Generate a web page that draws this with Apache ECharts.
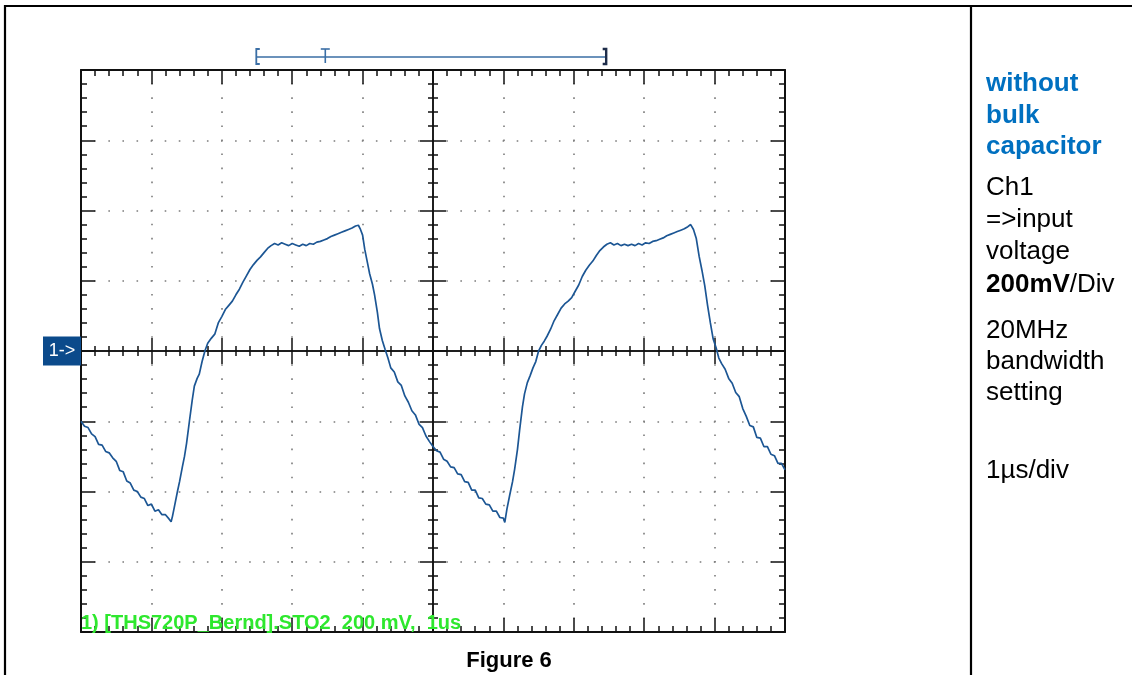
<!DOCTYPE html>
<html>
<head>
<meta charset="utf-8">
<title>Figure 6</title>
<script src="https://cdn.jsdelivr.net/npm/echarts@6/dist/echarts.min.js"></script>
<style>
  html, body { margin: 0; padding: 0; background: #ffffff; }
  #chart { width: 1132px; height: 675px; }
</style>
</head>
<body>
<div id="chart"></div>
<script>
// Channel 1 input voltage: time in microseconds, voltage in millivolts
const timeUs = [
  0.00, 0.05, 0.10, 0.15, 0.20, 0.25, 0.30, 0.35, 0.40, 0.45,
  0.50, 0.55, 0.60, 0.65, 0.70, 0.75, 0.80, 0.85, 0.90, 0.95,
  1.00, 1.05, 1.10, 1.15, 1.20, 1.25, 1.28, 1.30, 1.33, 1.37,
  1.40, 1.44, 1.47, 1.50, 1.54, 1.58, 1.61, 1.65, 1.68, 1.72,
  1.76, 1.80, 1.85, 1.90, 1.95, 2.00, 2.05, 2.10, 2.15, 2.20,
  2.25, 2.30, 2.35, 2.40, 2.45, 2.50, 2.55, 2.60, 2.65, 2.70,
  2.75, 2.80, 2.85, 2.90, 2.95, 3.00, 3.05, 3.10, 3.15, 3.20,
  3.25, 3.30, 3.35, 3.40, 3.45, 3.50, 3.55, 3.60, 3.65, 3.70,
  3.75, 3.80, 3.85, 3.90, 3.94, 3.97, 4.00, 4.03, 4.07, 4.10,
  4.14, 4.17, 4.21, 4.24, 4.28, 4.32, 4.36, 4.40, 4.45, 4.50,
  4.55, 4.60, 4.65, 4.70, 4.75, 4.80, 4.85, 4.90, 4.95,
  5.00, 5.05, 5.10, 5.15, 5.20, 5.25, 5.30, 5.35, 5.40, 5.45,
  5.50, 5.55, 5.60, 5.65, 5.70, 5.75, 5.80, 5.85, 5.90, 5.95,
  6.00, 6.02, 6.05, 6.09, 6.13, 6.16, 6.20, 6.23, 6.27, 6.30,
  6.34, 6.38, 6.42, 6.46, 6.50, 6.54, 6.58, 6.62, 6.67, 6.72,
  6.77, 6.82, 6.87, 6.92, 6.97, 7.02, 7.07, 7.12, 7.17, 7.22,
  7.27, 7.32, 7.37, 7.42, 7.47, 7.52, 7.57, 7.62, 7.67, 7.72,
  7.77, 7.82, 7.87, 7.92, 7.97, 8.02, 8.07, 8.12, 8.17, 8.22,
  8.27, 8.32, 8.37, 8.42, 8.47, 8.52, 8.57, 8.62, 8.66, 8.70,
  8.74, 8.78, 8.82, 8.86, 8.90, 8.94, 8.98, 9.02, 9.06, 9.10,
  9.15, 9.20, 9.25, 9.30, 9.35, 9.40, 9.45, 9.50, 9.55, 9.60,
  9.65, 9.70, 9.75, 9.80, 9.85, 9.90, 9.95, 10.00
];
const voltageMv = [
  -200, -214, -218, -236, -244, -266, -268, -286, -290, -304,
  -314, -340, -344, -370, -376, -396, -400, -416, -420, -440,
  -436, -456, -452, -466, -466, -478, -486, -470, -440, -400,
  -372, -330, -300, -262, -200, -140, -100, -78, -66, -30,
  0, 22, 36, 48, 80, 98, 118, 130, 142, 160,
  176, 196, 214, 232, 246, 258, 268, 280, 292, 300,
  306, 302, 308, 304, 300, 306, 302, 298, 304, 300,
  306, 304, 310, 312, 316, 320, 326, 330, 334, 338,
  342, 346, 350, 356, 358, 346, 330, 290, 250, 220,
  190, 160, 110, 64, 30, 4, -20, -48, -60, -88,
  -98, -128, -146, -170, -182, -208, -218, -242, -258,
  -272, -284, -288, -308, -314, -330, -332, -350, -352, -372,
  -374, -396, -396, -418, -420, -436, -438, -456, -456, -474,
  -476, -488, -450, -410, -372, -336, -280, -226, -160, -122,
  -90, -70, -48, -30, 0, 16, 28, 42, 62, 86,
  104, 122, 134, 142, 152, 170, 188, 212, 230, 244,
  256, 272, 286, 296, 304, 308, 302, 306, 300, 304,
  300, 304, 300, 306, 302, 308, 306, 312, 314, 318,
  322, 328, 332, 336, 340, 344, 348, 354, 360, 346,
  320, 270, 230, 186, 130, 80, 34, 10, -20, -36,
  -52, -78, -92, -118, -130, -164, -186, -212, -216, -246,
  -248, -272, -272, -294, -298, -320, -320, -338
];

// Screen divisions: 1 µs/div horizontally, 200 mV/div vertically
const timeDivisions = [0, 1, 2, 3, 4, 5, 6, 7, 8, 9, 10];
const voltageDivisions = [-800, -600, -400, -200, 0, 200, 400, 600, 800];

// Record window marker above the screen: start, trigger point, end (µs)
const recordStartUs = 2.49;
const triggerUs = 3.47;
const recordEndUs = 7.46;

const captionText = '1) [THS720P_Bernd].STO2  200 mV,  1us';
const figureTitle = 'Figure 6';
const headingLines = ['without', 'bulk', 'capacitor'];
const noteLines = ['Ch1', '=>input', 'voltage', '{b|200mV}/Div', '20MHz', 'bandwidth', 'setting', '1µs/div'];

const FONT = '"Liberation Sans", Arial, Helvetica, sans-serif';
const INK = '#111111';
const TRACE = '#1c5694';

const chart = echarts.init(document.getElementById('chart'), null, { renderer: 'canvas' });

function scopeAxis(dim, position, o) {
  const isX = dim === 'x';
  const ticks = isX ? timeDivisions : voltageDivisions;
  return {
    type: 'value',
    position: position,
    offset: o.offset || 0,
    min: ticks[0],
    max: ticks[ticks.length - 1],
    interval: ticks[1] - ticks[0],
    axisLine: { show: true, onZero: false, lineStyle: { color: INK, width: o.lineWidth } },
    axisTick: { show: true, inside: o.inside, length: o.major, lineStyle: { color: INK, width: 1.5 } },
    minorTick: { show: true, splitNumber: 5, length: o.minor, lineStyle: { color: INK, width: 1.5 } },
    axisLabel: { show: false },
    splitLine: o.dots ? {
      show: true,
      lineStyle: { color: '#7c7c7c', width: 1.6, type: [1.6, isX ? 12.45 : 12.48], dashOffset: 0.8 }
    } : { show: false },
    minorSplitLine: { show: false }
  };
}

const gridBox = { left: 81, top: 70, width: 704, height: 562 };

const option = {
  animation: false,
  backgroundColor: '#ffffff',
  grid: { left: gridBox.left, top: gridBox.top, width: gridBox.width, height: gridBox.height, outerBoundsMode: 'none' },
  xAxis: [
    scopeAxis('x', 'bottom', { inside: true, major: 14, minor: 6, lineWidth: 2, dots: true }),
    scopeAxis('x', 'top', { inside: true, major: 14, minor: 6, lineWidth: 2 }),
    scopeAxis('x', 'bottom', { inside: true, major: 13, minor: 5, lineWidth: 1.5, offset: -gridBox.height / 2 }),
    scopeAxis('x', 'bottom', { inside: false, major: 13, minor: 5, lineWidth: 1.5, offset: -gridBox.height / 2 })
  ],
  yAxis: [
    scopeAxis('y', 'left', { inside: true, major: 14, minor: 6, lineWidth: 2, dots: true }),
    scopeAxis('y', 'right', { inside: true, major: 14, minor: 6, lineWidth: 2 }),
    scopeAxis('y', 'left', { inside: true, major: 13, minor: 5, lineWidth: 1.5, offset: -gridBox.width / 2 }),
    scopeAxis('y', 'left', { inside: false, major: 13, minor: 5, lineWidth: 1.5, offset: -gridBox.width / 2 })
  ],
  series: [{
    name: 'Ch1',
    type: 'line',
    xAxisIndex: 0,
    yAxisIndex: 0,
    data: timeUs.map((t, i) => [t, voltageMv[i]]),
    symbol: 'none',
    showSymbol: false,
    clip: true,
    z: 5,
    lineStyle: { color: TRACE, width: 1.7 }
  }]
};

chart.setOption(option);

// Decorations placed from the axis scales
const zeroY = chart.convertToPixel({ yAxisIndex: 0 }, 0);
const topY = chart.convertToPixel({ yAxisIndex: 0 }, voltageDivisions[voltageDivisions.length - 1]);
const bottomY = chart.convertToPixel({ yAxisIndex: 0 }, voltageDivisions[0]);
const leftX = chart.convertToPixel({ xAxisIndex: 0 }, timeDivisions[0]);
const xStart = chart.convertToPixel({ xAxisIndex: 0 }, recordStartUs);
const xTrig = chart.convertToPixel({ xAxisIndex: 0 }, triggerUs);
const xEnd = chart.convertToPixel({ xAxisIndex: 0 }, recordEndUs);
const barY = topY - 13;

const graphics = [];

// Document table frame
graphics.push(
  { type: 'line', shape: { x1: 4, y1: 6, x2: 1132, y2: 6 }, style: { stroke: '#000', lineWidth: 2.2 }, z: 10 },
  { type: 'line', shape: { x1: 5, y1: 5, x2: 5, y2: 675 }, style: { stroke: '#000', lineWidth: 2.2 }, z: 10 },
  { type: 'line', shape: { x1: 971, y1: 5, x2: 971, y2: 675 }, style: { stroke: '#000', lineWidth: 2.2 }, z: 10 }
);

// Record window bar with trigger mark
graphics.push(
  { type: 'line', shape: { x1: xStart, y1: barY, x2: xEnd, y2: barY }, style: { stroke: '#3a6ea5', lineWidth: 1.6 }, z: 10 },
  { type: 'polyline', shape: { points: [[xStart + 3.5, barY - 8], [xStart, barY - 8], [xStart, barY + 7], [xStart + 3.5, barY + 7]] }, style: { stroke: '#3a6ea5', lineWidth: 1.8, fill: null }, z: 10 },
  { type: 'line', shape: { x1: xTrig - 4.5, y1: barY - 8, x2: xTrig + 4.5, y2: barY - 8 }, style: { stroke: '#3a6ea5', lineWidth: 1.6 }, z: 10 },
  { type: 'line', shape: { x1: xTrig, y1: barY - 8, x2: xTrig, y2: barY + 6 }, style: { stroke: '#3a6ea5', lineWidth: 1.6 }, z: 10 },
  { type: 'polyline', shape: { points: [[xEnd - 3.5, barY - 8], [xEnd, barY - 8], [xEnd, barY + 7], [xEnd - 3.5, barY + 7]] }, style: { stroke: '#1e2d4a', lineWidth: 2.4, fill: null }, z: 10 }
);

// Channel 1 ground reference marker
graphics.push(
  { type: 'rect', shape: { x: 43, y: zeroY - 14.5, width: leftX - 43, height: 29 }, style: { fill: '#0b4a8b' }, z: 10 },
  { type: 'text', x: 62, y: zeroY, style: { text: '1->', fill: '#ffffff', font: '18px ' + FONT, align: 'center', verticalAlign: 'middle' }, z: 11 }
);

// Scope caption on the screen
graphics.push({
  type: 'text', x: leftX, y: bottomY - 9,
  style: { text: captionText, fill: '#2ee82e', font: 'bold 20px ' + FONT, align: 'left', verticalAlign: 'middle' },
  z: 11
});

// Figure label
graphics.push({
  type: 'text', x: 509, y: 661,
  style: { text: figureTitle, fill: '#000000', font: 'bold 22px ' + FONT, align: 'center', verticalAlign: 'middle' },
  z: 11
});

// Side notes
const sideX = 986;
const headingY = [84, 115.5, 147];
const noteY = [188, 220, 252, 284.5, 331, 362, 393, 471];
headingLines.forEach((line, i) => {
  graphics.push({
    type: 'text', x: sideX, y: headingY[i],
    style: { text: line, fill: '#0070c0', font: 'bold 26px ' + FONT, align: 'left', verticalAlign: 'middle' },
    z: 11
  });
});
noteLines.forEach((line, i) => {
  graphics.push({
    type: 'text', x: sideX, y: noteY[i],
    style: {
      text: line, fill: '#000000', font: '26px ' + FONT, align: 'left', verticalAlign: 'middle',
      rich: { b: { fontWeight: 'bold', fontSize: 26, fontFamily: FONT, fill: '#000000' } }
    },
    z: 11
  });
});

chart.setOption({ graphic: { elements: graphics } });
</script>
</body>
</html>
